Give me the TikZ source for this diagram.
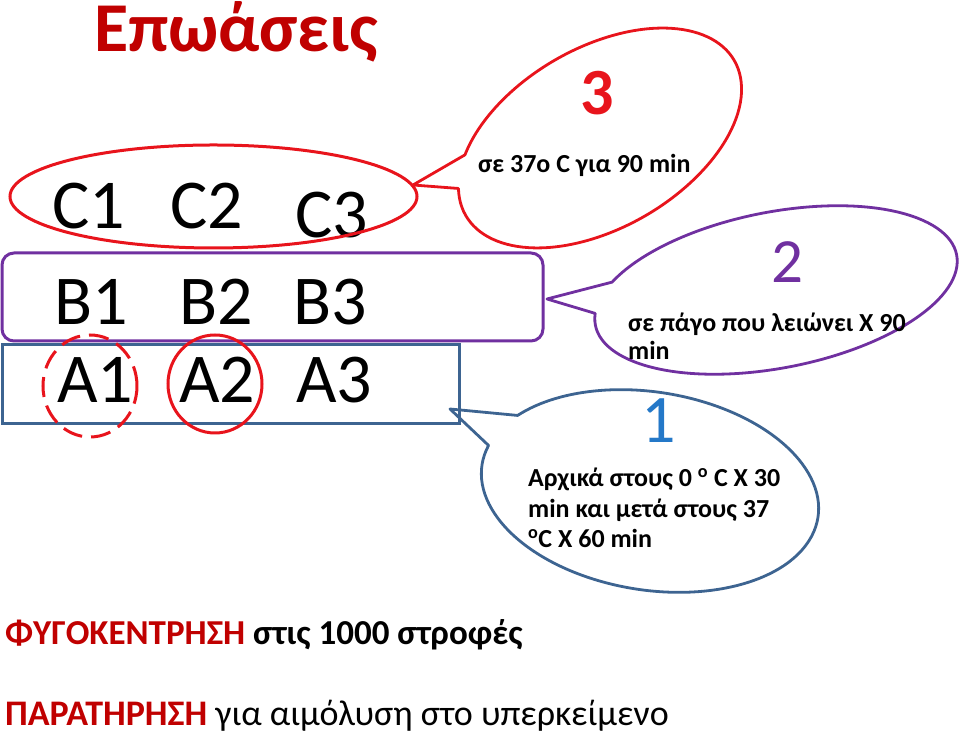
\documentclass[tikz,border=0pt]{standalone}
\usepackage{fontspec}
\setmainfont{Carlito}
\definecolor{darkred}{HTML}{C00000}
\definecolor{hot}{HTML}{E8141C}
\definecolor{plum}{HTML}{7030A0}
\definecolor{steel}{HTML}{3D6491}
\definecolor{sky}{HTML}{2478C8}
\usetikzlibrary{positioning}
\tikzset{
  big/.style={font=\fontsize{70}{84}\selectfont, anchor=base west, inner sep=0pt},
  note/.style={font=\bfseries\fontsize{26}{31}\selectfont, anchor=base west, inner sep=0pt},
  digit/.style={anchor=base, inner sep=0pt},
  tag/.style={line width=3pt},
  bubble/.style={line width=2.8pt, line join=round},
}
\begin{document}
\begin{tikzpicture}[x=1pt,y=1pt]
        \useasboundingbox (0,0) rectangle (959,735);
        \node[font=\bfseries\fontsize{70}{84}\selectfont,text=darkred,anchor=base,inner sep=0pt] (title) at (236,683) {Επωάσεις};
        \foreach \i/\x/\y in {1/52/506,2/170/506,3/295/497} \node[big] (c\i) at (\x,\y) {C\i};
        \foreach \i/\x in {1/54,2/179,3/293} \node[big] (b\i) at (\x,410) {B\i};
        \foreach \i/\x in {1/57,2/179,3/296} \node[big] (a\i) at (\x,332) {A\i};
        \draw[hot,tag] (213.5,538.5) ellipse [x radius=203.5,y radius=51.5];
        \draw[plum,tag,rounded corners=12pt] (2,482) rectangle (543,394);
        \draw[steel,tag] (2,390) rectangle (459,311);
        \draw[hot,tag,dash pattern=on 20pt off 9pt] (90,349) ellipse [x radius=47,y radius=51];
        \draw[hot,tag] (215,351) ellipse [x radius=47,y radius=49];
        \coordinate (tip3) at (413,550);
        \coordinate (tip2) at (547,436);
        \coordinate (tip1) at (450,326);
        \begin{scope}[shift={(600,597)},rotate=30]
          \draw[hot,bubble] (144:155 and 90)--(tip3)--(162.5:155 and 90) arc[start angle=162.5,end angle=504,x radius=155,y radius=90]--cycle;
        \end{scope}
        \begin{scope}[shift={(776,445)},rotate=11]
          \draw[plum,bubble] (150:184 and 78)--(tip2)--(171.5:184 and 78) arc[start angle=171.5,end angle=510,x radius=184,y radius=78]--cycle;
        \end{scope}
        \begin{scope}[shift={(650,244)},rotate=-9]
          \draw[steel,bubble] (147:170 and 99)--(tip1)--(168.5:170 and 99) arc[start angle=168.5,end angle=507,x radius=170,y radius=99]--cycle;
        \end{scope}
        \node[digit,font=\bfseries\fontsize{66}{79}\selectfont,text=hot] (n3) at (597.5,620) {3};
        \node[digit,font=\fontsize{63}{76}\selectfont,text=plum] (n2) at (787.5,452) {2};
        \node[digit,font=\fontsize{68}{80}\selectfont,text=sky] (n1) at (659,292) {1};
        \node[note] (t3) at (478,562) {σε 37ο C για 90 min};
        \node[note] (t2a) at (628,403) {σε πάγο που λειώνει X 90};
        \node[note] (t2b) at (628,375) {min};
        \node[note] (t1a) at (528,248) {Αρχικά στους 0 \textsuperscript{o} C X 30};
        \node[note] (t1b) at (528,217) {min και μετά στους 37};
        \node[note] (t1c) at (528,187) {\textsuperscript{o}C X 60 min};
        \node[font=\bfseries\fontsize{35}{42}\selectfont,anchor=base west,inner sep=0pt] (spin) at (5,90) {\textcolor{darkred}{ΦΥΓΟΚΕΝΤΡΗΣΗ} στις 1000 στροφές};
        \node[font=\fontsize{36}{43}\selectfont,anchor=base west,inner sep=0pt] (remark) at (5,9) {\textcolor{darkred}{\bfseries ΠΑΡΑΤΗΡΗΣΗ} για αιμόλυση στο υπερκείμενο};
      \end{tikzpicture}
\end{document}
